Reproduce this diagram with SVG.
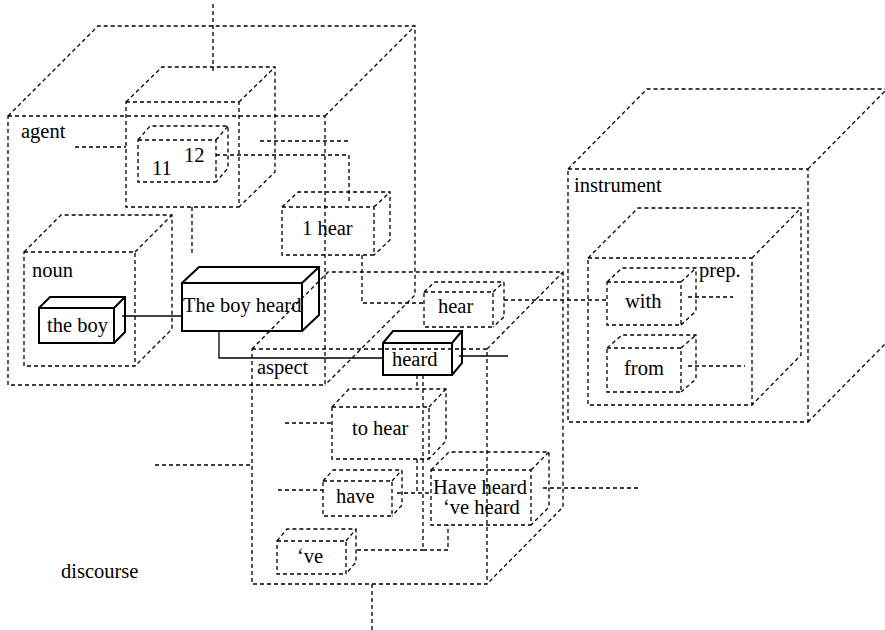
<svg xmlns="http://www.w3.org/2000/svg" width="885" height="630" viewBox="0 0 885 630">
<style>
.d{fill:none;stroke:#000;stroke-width:1.3;stroke-dasharray:4 3}
.s{fill:none;stroke:#000;stroke-width:2}
.c{fill:none;stroke:#000;stroke-width:1.3}
.cd{fill:none;stroke:#000;stroke-width:1.3;stroke-dasharray:4 3}
.t{font-family:'Liberation Serif','DejaVu Serif','Noto Serif',serif;font-size:20.5px;fill:#000}
</style>
<rect width="885" height="630" fill="#fff"/>
<g font-family="Liberation Serif, DejaVu Serif, serif" font-size="20.5">
<g id="agent">
<path class="d" d="M8,116H325V385H8Z M8,116L98,26H415V295L325,385 M325,116L415,26"/>
<text class="t" x="21" y="138">agent</text>
</g>
<g id="agent-inner">
<path class="d" d="M126,102H239V207H126Z M126,102L162,67H275V172L239,207 M239,102L275,67"/>
</g>
<g id="box-11-12">
<path class="d" d="M138,140H216V182H138Z M138,140L150,126H228V168L216,182 M216,140L228,126"/>
<text class="t" x="152" y="175">11</text>
<text class="t" x="184" y="162">12</text>
</g>
<g id="noun">
<path class="d" d="M24,252H135V366H24Z M24,252L61,215H172V329L135,366 M135,252L172,215"/>
<text class="t" x="32" y="277">noun</text>
</g>
<g id="the-boy">
<path class="s" d="M39,308H114V343H39Z M39,308L50,297H125V332L114,343 M114,308L125,297"/>
<text class="t" x="47" y="332">the boy</text>
</g>
<g id="the-boy-heard">
<path class="s" d="M182,283H302V331H182Z M182,283L199,267H319V315L302,331 M302,283L319,267"/>
<text class="t" x="183" y="312">The boy heard</text>
</g>
<g id="i-hear">
<path class="d" d="M282,207H374V255H282Z M282,207L298,192H390V240L374,255 M374,207L390,192"/>
<text class="t" x="302" y="235">1 hear</text>
</g>
<g id="aspect">
<path class="d" d="M252,349H487V584H252Z M252,349L328,272H563V507L487,584 M487,349L563,272"/>
<text class="t" x="257" y="374">aspect</text>
</g>
<g id="hear">
<path class="d" d="M424,292H493V327H424Z M424,292L435,282H504V317L493,327 M493,292L504,282"/>
<text class="t" x="438" y="313">hear</text>
</g>
<g id="heard">
<path class="s" d="M383,343H452V375H383Z M383,343L393,331H462V363L452,375 M452,343L462,331"/>
<text class="t" x="392" y="366">heard</text>
</g>
<g id="to-hear">
<path class="d" d="M332,407H429V459H332Z M332,407L349,389H446V441L429,459 M429,407L446,389"/>
<text class="t" x="352" y="435">to hear</text>
</g>
<g id="have">
<path class="d" d="M323,481H392V516H323Z M323,481L333,470H402V505L392,516 M392,481L402,470"/>
<text class="t" x="336" y="503">have</text>
</g>
<g id="have-heard">
<path class="d" d="M431,470H531V525H431Z M431,470L449,452H549V507L531,525 M531,470L549,452"/>
<text class="t" x="433" y="494">Have heard</text>
<text class="t" x="443" y="514">‘ve heard</text>
</g>
<g id="ve">
<path class="d" d="M277,541H346V574H277Z M277,541L287,529H356V562L346,574 M346,541L356,529"/>
<text class="t" x="297" y="563">‘ve</text>
</g>
<g id="instrument">
<path class="d" d="M568,169H808V422H568Z M568,169L647,89H887V342L808,422 M808,169L887,89"/>
<text class="t" x="574" y="192">instrument</text>
</g>
<g id="prep">
<path class="d" d="M588,258H752V405H588Z M588,258L638,208H801V355L752,405 M752,258L801,208"/>
<text class="t" x="699" y="277">prep.</text>
</g>
<g id="with">
<path class="d" d="M607,282H681V325H607Z M607,282L622,268H696V311L681,325 M681,282L696,268"/>
<text class="t" x="625" y="308">with</text>
</g>
<g id="from">
<path class="d" d="M607,348H681V392H607Z M607,348L622,335H696V379L681,392 M681,348L696,335"/>
<text class="t" x="624" y="375">from</text>
</g>
<g id="discourse">
<text class="t" x="61" y="578">discourse</text>
</g>
</g>
<g id="connectors">
<path class="cd" d="M213,4V72"/>
<path class="cd" d="M75,147H126"/>
<path class="cd" d="M260,141H350"/>
<path class="cd" d="M216,155H349V202"/>
<path class="cd" d="M192,207V256"/>
<path class="c" d="M122,316H182"/>
<path class="c" d="M219,331V358H383"/>
<path class="c" d="M459,356H508"/>
<path class="cd" d="M362,255V303H424"/>
<path class="cd" d="M504,300H607"/>
<path class="cd" d="M688,297H733"/>
<path class="cd" d="M688,366H745"/>
<path class="cd" d="M285,423H332"/>
<path class="cd" d="M155,465H252"/>
<path class="cd" d="M278,490H323"/>
<path class="cd" d="M417,375V389"/>
<path class="cd" d="M417,459V493"/>
<path class="cd" d="M397,493H431"/>
<path class="cd" d="M423,375V550H448V525"/>
<path class="cd" d="M357,550H423"/>
<path class="cd" d="M543,488H640"/>
<path class="cd" d="M372,584V630"/>
</g>
</svg>
